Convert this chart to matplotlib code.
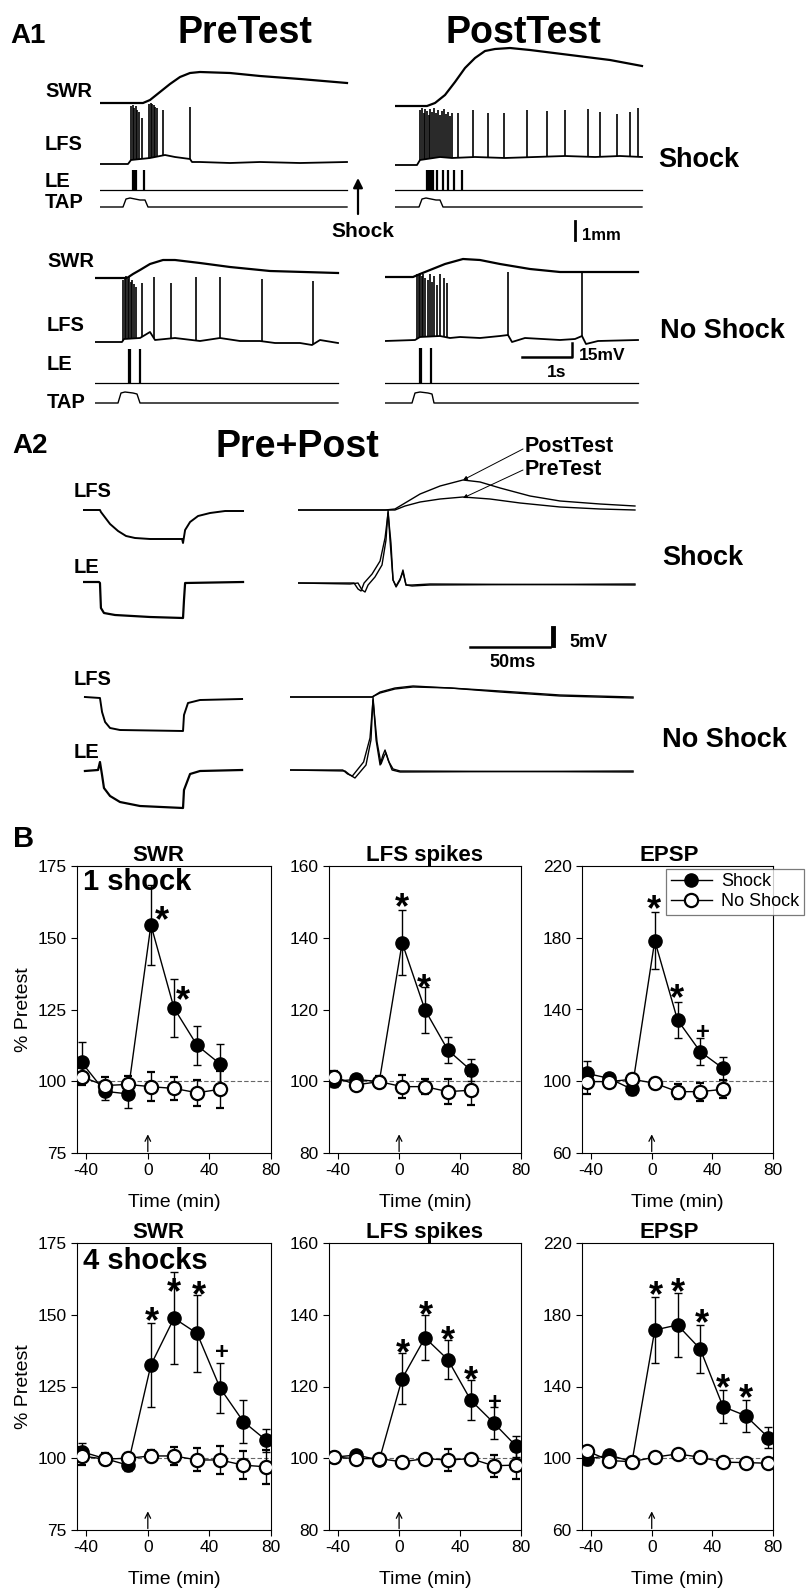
import matplotlib.pyplot as plt
import numpy as np
from matplotlib.lines import Line2D

plt.rcParams['font.family'] = ['Liberation Sans', 'DejaVu Sans']
plt.rcParams['axes.unicode_minus'] = False

# ---------------- A1: raw traces (time in s, amplitude in a.u. above baseline) ----------------
# PreTest, Shock animal
pre_sh_swr = ([0, 0.86, 1.0, 1.2, 1.4, 1.6, 1.8, 2.0, 2.6, 3.2, 4.0, 4.94],
              [0, 0, 3, 11, 19, 26, 30, 31, 30, 27, 24, 20])
pre_sh_lfs = ([0, 0.56, 0.62, 1.0, 1.3, 1.5, 1.8, 1.84, 2.0, 2.6, 3.2, 4.0, 4.94],
              [0, 0, 4, 6, 9, 7, 5, 2, 2, 1, 2, 1, 2])
pre_sh_spk_t = [0.62, 0.65, 0.68, 0.71, 0.74, 0.77, 0.84, 0.98, 1.01, 1.04, 1.07, 1.10, 1.14, 1.26, 1.80]
pre_sh_spk_a = [58, 59, 56, 58, 54, 52, 46, 60, 61, 60, 59, 57, 56, 54, 57]
pre_sh_le_t = [0.66, 0.69, 0.72, 0.88]
pre_sh_tap = ([0, 0.46, 0.52, 0.6, 0.8, 0.9, 0.96, 4.94], [0, 0, 8, 9, 7, 7, 0, 0])

# PostTest, Shock animal
post_sh_swr = ([0, 0.64, 0.8, 1.0, 1.2, 1.4, 1.6, 1.8, 2.0, 2.3, 2.7, 3.5, 4.3, 4.94],
               [0, 0, 3, 11, 24, 38, 48, 55, 57, 58, 56, 51, 46, 40])
post_sh_lfs = ([0, 0.44, 0.5, 0.9, 1.14, 1.6, 2.2, 2.8, 3.4, 4.0, 4.5, 4.94],
               [0, 0, 5, 8, 7, 8, 7, 8, 9, 8, 9, 8])
post_sh_spk_t = [0.50, 0.54, 0.57, 0.60, 0.64, 0.67, 0.70, 0.74, 0.78, 0.82, 0.86, 0.90, 0.94, 0.98,
                 1.02, 1.06, 1.10, 1.14, 1.26, 1.56, 1.86, 2.18, 2.64, 3.04, 3.40, 3.86, 4.10, 4.44,
                 4.70, 4.86]
post_sh_spk_a = [55, 57, 52, 56, 54, 50, 56, 53, 57, 52, 55, 50, 54, 56, 51, 53, 49, 52,
                 52, 55, 52, 52, 55, 54, 55, 56, 53, 51, 53, 57]
post_sh_le_t = [0.64, 0.67, 0.70, 0.73, 0.76, 0.84, 0.96, 1.06, 1.18, 1.34]
post_sh_tap = ([0, 0.48, 0.54, 0.62, 0.82, 0.9, 0.96, 4.94], [0, 0, 8, 9, 7, 7, 0, 0])

# PreTest, No Shock animal
pre_ns_swr = ([0, 0.64, 0.76, 0.9, 1.1, 1.36, 1.6, 2.1, 2.7, 3.5, 4.86],
              [0, 0, 4, 8, 14, 18, 18, 15, 11, 7, 5])
pre_ns_lfs = ([0, 0.54, 0.58, 0.9, 1.1, 1.2, 1.6, 2.1, 2.5, 2.9, 3.3, 3.6, 4.1, 4.34, 4.5, 4.86],
              [0, 0, 3, 4, 10, 2, 4, 1, 4, 1, 1, -1, -1, -3, 2, -1])
pre_ns_spk_t = [0.56, 0.59, 0.62, 0.65, 0.68, 0.71, 0.74, 0.78, 0.82, 0.94, 1.18, 1.52, 2.02, 2.50, 3.34, 4.36]
pre_ns_spk_a = [62, 64, 66, 63, 65, 60, 62, 58, 55, 59, 65, 59, 65, 65, 63, 61]
pre_ns_le_t = [0.67, 0.69, 0.90]
pre_ns_tap = ([0, 0.46, 0.52, 0.6, 0.76, 0.84, 0.9, 4.86], [0, 0, 10, 11, 10, 9, 0, 0])

# PostTest, No Shock animal
post_ns_swr = ([0, 0.56, 0.7, 0.9, 1.2, 1.56, 1.9, 2.3, 2.9, 3.5, 5.06],
               [0, 0, 3, 7, 13, 18, 17, 13, 8, 5, 5])
post_ns_lfs = ([0, 0.6, 0.7, 1.1, 1.3, 1.5, 1.9, 2.3, 2.46, 2.54, 2.8, 3.5, 3.8, 3.94, 4.02, 4.26, 5.06],
               [-1, 0, 3, 4, 2, 3, 2, 4, 5, -2, 2, 0, 1, 4, -4, -1, 0])
post_ns_spk_t = [0.64, 0.67, 0.70, 0.73, 0.76, 0.80, 0.86, 0.90, 0.94, 0.98, 1.04, 1.10, 1.18, 1.24, 2.46, 3.94]
post_ns_spk_a = [66, 65, 67, 64, 66, 62, 60, 66, 58, 64, 55, 66, 62, 57, 68, 68]
post_ns_le_t = [0.69, 0.71, 0.92]
post_ns_tap = ([0, 0.54, 0.6, 0.7, 0.86, 0.94, 0.98, 5.06], [0, 0, 10, 11, 10, 9, 0, 0])

le_amp_sh, le_amp_ns = 20, 34

# ---------------- A2: averaged responses (time in ms) ----------------
a2_sh_lfs = ([0, 10.6, 11.2, 13.1, 16.9, 21.9, 26.9, 32.5, 41.9, 61.9, 62.5, 63.8, 66.9, 71.9, 79.4, 88.8, 100],
             [0, 0, -2, -6, -14, -21, -26, -28, -29, -29, -33, -20, -12, -6, -3, -1, -1])
a2_sh_le = ([0, 10, 10.6, 11.2, 13.1, 20, 41.9, 62.5, 63.1, 63.8, 100],
            [0, 0, -1, -26, -31, -33, -35, -36, -18, -1, 0])
a2_ns_lfs = ([1.2, 10.6, 11.9, 13.8, 16.9, 23.1, 62.5, 63.1, 65.6, 73.1, 99.4],
             [1, 0, -14, -24, -30, -32, -33, -17, -5, -2, -1])
a2_ns_le = ([1.2, 9.4, 10.6, 11.9, 13.1, 16.9, 23.1, 35.6, 62.5, 63.1, 66.9, 73.1, 99.4],
            [-1, 0, 8, -5, -18, -26, -32, -36, -38, -20, -4, -1, 0])

sh_swr_post = ([0, 54.4, 60.6, 66.9, 76.3, 88.8, 103.1, 113.8, 126.3, 145, 163.8, 188.8, 210.6],
               [0, 0, 1, 7, 16, 24, 30, 28, 22, 14, 9, 6, 4])
sh_swr_pre = ([0, 60.6, 66.9, 76.3, 88.8, 103.1, 120, 138.8, 163.8, 188.8, 210.6],
              [0, 0, 4, 8, 11, 13, 11, 7, 3, 1, 0])
sh_le_post = ([0, 32.5, 37.5, 40, 41.9, 43.8, 48.1, 52.5, 55, 56.3, 57.5, 59.4, 61.3, 63.8, 65.6, 67.5, 71.3, 82.5, 210.6],
              [0, -1, 0, -7, -9, -2, 6, 18, 43, 73, 43, 3, -4, 3, 13, -2, -3, -2, -1])
sh_le_pre = ([0, 30, 35, 37.5, 39.4, 41.3, 46.3, 51.3, 54.4, 56.3, 58.1, 59.4, 61.3, 63.8, 65.6, 67.5, 71.3, 82.5, 210.6],
             [0, 0, 0, -6, -8, 0, 9, 22, 45, 70, 40, 3, -3, 4, 11, -2, -2, -1, -2])
ns_swr_post = ([0, 51.3, 56.3, 65.6, 76.9, 100, 131.3, 168.8, 214.4], [0, 0, 5, 9, 11, 9, 5, 1, -1])
ns_swr_pre = ([0, 51.3, 56.3, 65.6, 76.9, 100, 131.3, 168.8, 214.4], [0, 0, 4, 8, 10, 9, 6, 2, 0])
ns_le_post = ([0, 34.4, 37.5, 40.6, 43.8, 47.5, 50.6, 51.9, 53.8, 56.3, 58.1, 59.4, 61.3, 63.8, 68.8, 214.4],
              [0, -1, -5, -8, -2, 5, 30, 73, 30, 5, 15, 20, 10, 0, -2, -1])
ns_le_pre = ([0, 33, 36, 39, 42, 46, 50, 51.9, 54.4, 56.9, 58.8, 60, 61.9, 64.4, 68.8, 214.4],
             [0, 0, -4, -6, 0, 8, 32, 70, 28, 6, 14, 17, 8, 1, -1, -2])

# ---------------- B: % of pretest (mean +/- SEM) ----------------
t_1shock = [-43, -28, -13, 2, 17, 32, 47]
t_4shock = [-43, -28, -13, 2, 17, 32, 47, 62, 77]

swr1_sh = [106.6, 96.5, 95.6, 154.5, 125.5, 112.5, 106]
swr1_sh_err = [7, 3, 5, 14, 10, 6.7, 7]
swr1_ns = [101.6, 98.5, 98.9, 98.1, 97.5, 96, 97.2]
swr1_ns_err = [3, 3, 3, 5, 4, 4.5, 6.5]

lfs1_sh = [100, 100.5, 99.9, 138.6, 119.9, 108.7, 103.1]
lfs1_sh_err = [1.5, 1.5, 1.5, 9, 6.5, 3.5, 3]
lfs1_ns = [101.3, 99, 99.9, 98.5, 98.5, 97.1, 97.5]
lfs1_ns_err = [1.5, 1.5, 1.5, 3.3, 2, 3.5, 4]

epsp1_sh = [104.4, 101.6, 95.5, 178.4, 134.2, 116.5, 107.2]
epsp1_sh_err = [7, 3, 3, 16, 10, 7.5, 6.5]
epsp1_ns = [99.8, 99.8, 101.1, 98.9, 94.2, 94.2, 95.5]
epsp1_ns_err = [7, 3, 3, 3, 4, 5, 5]

swr4_sh = [102.3, 99.9, 97.6, 132.5, 148.8, 143.5, 124.4, 112.8, 106.2]
swr4_sh_err = [3, 2, 2, 14.5, 16, 13.5, 8.7, 7.5, 4]
swr4_ns = [100.8, 99.7, 100, 100.8, 100.8, 99.4, 99.4, 97.6, 97]
swr4_ns_err = [3, 2, 2, 2, 3, 4, 5, 5, 6]

lfs4_sh = [100.3, 100.9, 99.5, 122.2, 133.6, 127.5, 116.2, 109.9, 103.3]
lfs4_sh_err = [1, 1, 1, 7, 6.3, 5.5, 5.6, 4.5, 3]
lfs4_ns = [100.3, 99.9, 99.9, 99, 99.9, 99.5, 99.9, 97.9, 98.1]
lfs4_ns_err = [1, 1, 1, 1, 1, 3, 1, 3, 4]

epsp4_sh = [99.4, 101.8, 98.1, 171.5, 174.3, 160.9, 128.8, 123.7, 111.5]
epsp4_sh_err = [3, 3, 3, 18.5, 18, 13.4, 9.3, 8.8, 6]
epsp4_ns = [104.2, 98.7, 98.1, 100.6, 102.4, 100.6, 97.8, 97.6, 97.2]
epsp4_ns_err = [2, 2, 2, 2, 2, 2, 2, 2, 2]

# significance marks (time, value, symbol)
swr1_sig = [(9, 158.5, '*'), (23, 130.6, '*')]
lfs1_sig = [(1.8, 150.5, '*'), (16.4, 127.8, '*')]
epsp1_sig = [(1.7, 200, '*'), (16.6, 150, '*'), (33.7, 128.6, '+')]
swr4_sig = [(2.7, 150, '*'), (16.7, 160.4, '*'), (32.9, 159.2, '*'), (48.1, 137.5, '+')]
lfs4_sig = [(2.4, 131.1, '*'), (17.5, 141.8, '*'), (32.3, 134.8, '*'), (47.2, 123.7, '*'), (63, 116.2, '+')]
epsp4_sig = [(2.6, 194.7, '*'), (17.3, 196.6, '*'), (32.9, 178.9, '*'), (47.2, 142.7, '*'), (62.3, 137.1, '*')]

W, H = 811, 1589
fig = plt.figure(figsize=(W / 100, H / 100), dpi=100)


def box(l, t, r, b):
    return [l / W, 1 - b / H, (r - l) / W, (b - t) / H]


ov = fig.add_axes([0, 0, 1, 1])
ov.set_xlim(0, W)
ov.set_ylim(H, 0)
ov.axis('off')


def txt(x, y, s, size, ha='left', bold=True):
    ov.text(x, y, s, fontsize=size, fontweight='bold' if bold else 'normal', ha=ha, va='baseline')


def trace_ax(l, t, r, b, xmax, ymax):
    ax = fig.add_axes(box(l, t, r, b))
    ax.set_xlim(0, xmax)
    ax.set_ylim(0, ymax)
    ax.axis('off')
    return ax


def a1_panel(ax, swr, lfs, spk_t, spk_a, le_t, le_amp, tap, offs):
    o_swr, o_lfs, o_le, o_tap = offs
    ax.plot(swr[0], np.array(swr[1]) + o_swr, color='k', lw=1.6)
    ax.plot(lfs[0], np.array(lfs[1]) + o_lfs, color='k', lw=1.3)
    bottoms = np.interp(spk_t, lfs[0], lfs[1]) + o_lfs
    ax.vlines(spk_t, bottoms, np.array(spk_a) + o_lfs, color='k', lw=1.2)
    end = max(tap[0])
    ax.plot([0, end], [o_le, o_le], color='k', lw=0.9)
    ax.vlines(le_t, o_le, o_le + le_amp, color='k', lw=1.6)
    ax.plot(tap[0], np.array(tap[1]) + o_tap, color='k', lw=1.0)


# A1 Shock row
ax = trace_ax(100, 40, 360, 245, 5.2, 205)
a1_panel(ax, pre_sh_swr, pre_sh_lfs, pre_sh_spk_t, pre_sh_spk_a, pre_sh_le_t, le_amp_sh, pre_sh_tap, (142, 81, 55, 38))
ax = trace_ax(395, 40, 655, 245, 5.2, 205)
a1_panel(ax, post_sh_swr, post_sh_lfs, post_sh_spk_t, post_sh_spk_a, post_sh_le_t, le_amp_sh, post_sh_tap, (139, 80, 55, 38))
# A1 No Shock row
ax = trace_ax(95, 245, 355, 420, 5.2, 175)
a1_panel(ax, pre_ns_swr, pre_ns_lfs, pre_ns_spk_t, pre_ns_spk_a, pre_ns_le_t, le_amp_ns, pre_ns_tap, (142, 78, 37, 17))
ax = trace_ax(385, 245, 645, 420, 5.2, 175)
a1_panel(ax, post_ns_swr, post_ns_lfs, post_ns_spk_t, post_ns_spk_a, post_ns_le_t, le_amp_ns + 1, post_ns_tap, (143, 80, 37, 17))

txt(10, 43, 'A1', 20)
txt(245, 43, 'PreTest', 27, ha='center')
txt(523, 43, 'PostTest', 27, ha='center')
for y, s in [(97, 'SWR'), (150, 'LFS'), (187, 'LE'), (208, 'TAP')]:
    txt(45, y, s, 14.5)
for y, s in [(267, 'SWR'), (331, 'LFS'), (370, 'LE'), (408, 'TAP')]:
    txt(47, y, s, 14.5)
ov.annotate('', xy=(358, 178), xytext=(358, 214),
            arrowprops=dict(arrowstyle='-|>', color='k', lw=1.6, mutation_scale=14, shrinkA=0, shrinkB=0))
txt(363, 237, 'Shock', 15, ha='center')
txt(658, 167, 'Shock', 19.5)
txt(660, 338, 'No Shock', 19.5)
ov.plot([575, 575], [221, 240], color='k', lw=2)
txt(582, 240, '1mm', 12)
ov.plot([522, 572, 572], [357, 357, 343], color='k', lw=1.8)
txt(579, 360, '15mV', 12.5)
txt(557, 377, '1s', 12.5, ha='center')

# A2
txt(12, 453, 'A2', 20)
txt(297, 457, 'Pre+Post', 27, ha='center')
ax = trace_ax(83, 490, 248, 630, 103.1, 140)
ax.plot(a2_sh_lfs[0], np.array(a2_sh_lfs[1]) + 120, color='k', lw=1.4)
ax.plot(a2_sh_le[0], np.array(a2_sh_le[1]) + 48, color='k', lw=1.6)
ax = trace_ax(83, 680, 248, 815, 103.1, 135)
ax.plot(a2_ns_lfs[0], np.array(a2_ns_lfs[1]) + 117, color='k', lw=1.4)
ax.plot(a2_ns_le[0], np.array(a2_ns_le[1]) + 45, color='k', lw=1.6)
for y, s in [(497, 'LFS'), (573, 'LE'), (685, 'LFS'), (758, 'LE')]:
    txt(74, y, s, 14.5)

ax = trace_ax(298, 475, 642, 600, 215, 125)
for tr in (sh_swr_post, sh_swr_pre):
    ax.plot(tr[0], np.array(tr[1]) + 90, color='k', lw=1.0)
for tr in (sh_le_post, sh_le_pre):
    ax.plot(tr[0], np.array(tr[1]) + 17, color='k', lw=1.0)
ax = trace_ax(290, 680, 634, 785, 215, 105)
for tr in (ns_swr_post, ns_swr_pre):
    ax.plot(tr[0], np.array(tr[1]) + 88, color='k', lw=1.0)
for tr in (ns_le_post, ns_le_pre):
    ax.plot(tr[0], np.array(tr[1]) + 15, color='k', lw=1.0)

txt(525, 452, 'PostTest', 15.5)
txt(525, 475, 'PreTest', 15.5)
for (x0, y0), (x1, y1) in [((523, 449), (463, 480)), ((523, 470), (463, 498))]:
    ov.annotate('', xy=(x1, y1), xytext=(x0, y0),
                arrowprops=dict(arrowstyle='-|>', color='k', lw=0.7, mutation_scale=6, shrinkA=0, shrinkB=0))
txt(662, 565, 'Shock', 19.5)
txt(662, 747, 'No Shock', 19.5)
ov.plot([470, 550], [647, 647], color='k', lw=1.8)
ov.plot([553, 553], [628, 645], color='k', lw=3.5)
txt(569, 647, '5mV', 13)
txt(513, 667, '50ms', 13, ha='center')

# B
txt(13, 847, 'B', 21)


def stat_panel(l, t, r, b, ylim, yticks, title, title_x, times, sh, sh_e, ns, ns_e, marks):
    ax = fig.add_axes(box(l, t, r, b))
    ax.set_xlim(-46, 80)
    ax.set_ylim(*ylim)
    ax.set_xticks([-40, 0, 40, 80])
    ax.set_yticks(yticks)
    ax.axhline(100, color='0.4', lw=0.8, ls=(0, (4, 2)), zorder=1)
    ax.errorbar(times, sh, yerr=sh_e, fmt='-o', color='k', ms=9.5, mfc='k', mec='k',
                lw=1, elinewidth=1, capsize=3, capthick=1, zorder=3)
    ax.errorbar(times, ns, yerr=ns_e, fmt='-o', color='k', ms=9.5, mfc='white', mec='k', mew=1.6,
                lw=1, elinewidth=1, capsize=3, capthick=1, zorder=4)
    ax.annotate('', xy=(0, 0.065), xytext=(0, 0.005), xycoords=ax.get_xaxis_transform(),
                arrowprops=dict(arrowstyle='->', lw=0.9, color='k', shrinkA=0, shrinkB=0))
    for x, y, s in marks:
        star = s == '*'
        ax.annotate(s, xy=(x, y), xytext=(0, -6 if star else -1.5), textcoords='offset points',
                    ha='center', va='center', fontsize=26 if star else 17, fontweight='bold', zorder=5)
    ax.set_title(title, x=title_x, fontsize=16, fontweight='bold', pad=3)
    ax.set_xlabel('Time (min)', fontsize=14, labelpad=11)
    ax.tick_params(direction='out', length=4, labelsize=12.5)
    return ax


cols = [(77, 271), (329, 521), (582, 773)]
rows = [(866, 1153), (1243, 1530)]
yl_swr, yt_swr = (75, 175), [75, 100, 125, 150, 175]
yl_lfs, yt_lfs = (80, 160), [80, 100, 120, 140, 160]
yl_epsp, yt_epsp = (60, 220), [60, 100, 140, 180, 220]

a = stat_panel(cols[0][0], rows[0][0], cols[0][1], rows[0][1], yl_swr, yt_swr, 'SWR', 0.42,
               t_1shock, swr1_sh, swr1_sh_err, swr1_ns, swr1_ns_err, swr1_sig)
a.set_ylabel('% Pretest', fontsize=14)
a.text(0.03, 0.944, '1 shock', transform=a.transAxes, fontsize=21, fontweight='bold', va='center')
stat_panel(cols[1][0], rows[0][0], cols[1][1], rows[0][1], yl_lfs, yt_lfs, 'LFS spikes', 0.5,
           t_1shock, lfs1_sh, lfs1_sh_err, lfs1_ns, lfs1_ns_err, lfs1_sig)
a = stat_panel(cols[2][0], rows[0][0], cols[2][1], rows[0][1], yl_epsp, yt_epsp, 'EPSP', 0.455,
               t_1shock, epsp1_sh, epsp1_sh_err, epsp1_ns, epsp1_ns_err, epsp1_sig)
handles = [Line2D([], [], color='k', lw=1, marker='o', ms=9.5, mfc='k', mec='k'),
           Line2D([], [], color='k', lw=1, marker='o', ms=9.5, mfc='white', mec='k', mew=1.6)]
leg = a.legend(handles, ['Shock', 'No Shock'], loc='upper left', bbox_to_anchor=(0.44, 0.99),
               frameon=True, fancybox=False, edgecolor='0.35', fontsize=13, handlelength=2.3,
               borderpad=0.25, labelspacing=0.15, handletextpad=0.5, borderaxespad=0)
leg.get_frame().set_linewidth(0.9)
leg.set_zorder(10)

a = stat_panel(cols[0][0], rows[1][0], cols[0][1], rows[1][1], yl_swr, yt_swr, 'SWR', 0.42,
               t_4shock, swr4_sh, swr4_sh_err, swr4_ns, swr4_ns_err, swr4_sig)
a.set_ylabel('% Pretest', fontsize=14)
a.text(0.03, 0.937, '4 shocks', transform=a.transAxes, fontsize=21, fontweight='bold', va='center')
stat_panel(cols[1][0], rows[1][0], cols[1][1], rows[1][1], yl_lfs, yt_lfs, 'LFS spikes', 0.5,
           t_4shock, lfs4_sh, lfs4_sh_err, lfs4_ns, lfs4_ns_err, lfs4_sig)
stat_panel(cols[2][0], rows[1][0], cols[2][1], rows[1][1], yl_epsp, yt_epsp, 'EPSP', 0.455,
           t_4shock, epsp4_sh, epsp4_sh_err, epsp4_ns, epsp4_ns_err, epsp4_sig)

fig.savefig('out.png', dpi=100)
